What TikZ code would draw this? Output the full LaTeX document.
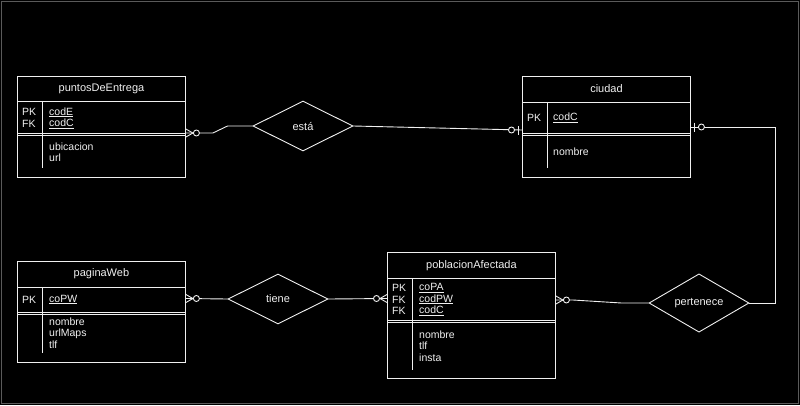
\documentclass[tikz,border=0pt]{standalone}
\usepackage{fontspec}
\setmainfont{Liberation Sans}
\usetikzlibrary{calc,shapes.geometric}

\definecolor{erline}{HTML}{F0F0F0}
\definecolor{frame}{HTML}{5A5A5A}
\tikzset{
	entity/.style={draw=erline, line width=0.9pt, rectangle, minimum width=168pt, inner sep=0pt, anchor=north west},
	relation/.style={draw=erline, line width=0.9pt, diamond, minimum width=100pt, minimum height=50pt, inner sep=0pt, text=erline, font=\fontsize{11}{13}\selectfont},
	hdr/.style={text=erline, inner sep=0pt, font=\fontsize{11}{13}\selectfont},
	txt/.style={text=erline, inner sep=0pt, anchor=west, align=left, font=\fontsize{10.5}{11.5}\selectfont},
	conn/.style={draw=erline, line width=0.9pt},
	zeromany/.pic={\draw[conn] (0,-4) -- (7,0) -- (0,4); \draw[conn, fill=black] (10.5,0) circle [radius=3pt];},
	zeroone/.pic={\draw[conn] (4,-4.5) -- (4,4.5); \draw[conn, fill=black] (10.5,0) circle [radius=3pt];}
}
% header line, double line under the keys, key column divider
\def\erlines(#1)(#2:#3:#4:#5){%
	\draw[conn] ($(#1.north west)+(0,#2)$) -- ($(#1.north east)+(0,#2)$);
	\draw[conn] ($(#1.north west)+(0,#3)$) -- ($(#1.north east)+(0,#3)$);
	\draw[conn] ($(#1.north west)+(0,#3+2)$) -- ($(#1.north east)+(0,#3+2)$);
	\draw[conn] ($(#1.north west)+(#4,#2)$) -- ($(#1.north west)+(#4,#5)$);}

\begin{document}
\begin{tikzpicture}[x=1pt, y=-1pt]
			%%%%% START %%%%%
			
			\useasboundingbox (0,0) rectangle (800,405);
			\fill[black] (0,0) rectangle (800,405);
			\draw[frame, line width=1pt] (1.5,1.5) rectangle (798.5,403.5);
			
			%%%%% puntosDeEntrega %%%%%
			\node[entity, minimum height=101pt] (pe) at (17,76) {};
			\erlines(pe)(25:57.5:25:92)
			\node[hdr] (pe-name) at ($(pe.north)+(0,12.5)$) {puntosDeEntrega};
			\node[txt] (pe-pk) at ($(pe.north west)+(5,42)$) {PK\\FK};
			\node[txt] (pe-keys) at ($(pe.north west)+(32,42)$) {\underline{codE}\\\underline{codC}};
			\node[txt] (pe-attr) at ($(pe.north west)+(32,76)$) {ubicacion\\url};
			
			%%%%% ciudad %%%%%
			\node[entity, minimum height=101pt] (ciudad) at (522,76) {};
			\erlines(ciudad)(26:57.5:25:92)
			\node[hdr] (ci-name) at ($(ciudad.north)+(0,13)$) {ciudad};
			\node[txt] (ci-pk) at ($(ciudad.north west)+(5,42)$) {PK};
			\node[txt] (ci-keys) at ($(ciudad.north west)+(31,42)$) {\underline{codC}};
			\node[txt] (ci-attr) at ($(ciudad.north west)+(31,76)$) {nombre};
			
			%%%%% paginaWeb %%%%%
			\node[entity, minimum height=101pt] (pw) at (17,261) {};
			\erlines(pw)(26:51.5:25:92)
			\node[hdr] (pw-name) at ($(pw.north)+(0,13)$) {paginaWeb};
			\node[txt] (pw-pk) at ($(pw.north west)+(5,38.5)$) {PK};
			\node[txt] (pw-keys) at ($(pw.north west)+(32,38.5)$) {\underline{coPW}};
			\node[txt] (pw-attr) at ($(pw.north west)+(32,72)$) {nombre\\urlMaps\\tlf};
			
			%%%%% poblacionAfectada %%%%%
			\node[entity, minimum height=126pt] (pa) at (387,252) {};
			\erlines(pa)(26:68:25:118)
			\node[hdr] (pa-name) at ($(pa.north)+(0,14)$) {poblacionAfectada};
			\node[txt] (pa-pk) at ($(pa.north west)+(5,47.5)$) {PK\\FK\\FK};
			\node[txt] (pa-keys) at ($(pa.north west)+(32,47.5)$) {\underline{coPA}\\\underline{codPW}\\\underline{codC}};
			\node[txt] (pa-attr) at ($(pa.north west)+(32,94)$) {nombre\\tlf\\insta};
			
			%%%%% relations %%%%%
			\node[relation] (esta) at (303,126) {está};
			\node[relation] (tiene) at (278,299) {tiene};
			\node[relation] (pert) at (699,303) {pertenece};
			
			\coordinate (pe-r) at ($(pe.north east)+(0,57)$);
			\coordinate (ci-l) at ($(ciudad.north west)+(0,54)$);
			\coordinate (ci-r) at ($(ciudad.north east)+(0,51)$);
			\coordinate (pw-r) at ($(pw.north east)+(0,37.5)$);
			\coordinate (pa-l) at ($(pa.north west)+(0,46.5)$);
			\coordinate (pa-r) at ($(pa.north east)+(0,48)$);
			
			\draw[conn] (pe-r) -- ++(27,0) -- ($(esta.west)+(-25,0)$) -- (esta.west);
			\draw[conn] (esta.east) -- (ci-l);
			\draw[conn] (ci-r) -- ++(85,0) |- (pert.east);
			\draw[conn] (pa-r) -- ++(17,0) -- ($(pert.west)+(-27,0)$) -- (pert.west);
			\draw[conn] (pw-r) -- (tiene.west);
			\draw[conn] (tiene.east) -- (pa-l);
			
			\pic at (pe-r) {zeromany};
			\pic[rotate=180] at (ci-l) {zeroone};
			\pic at (ci-r) {zeroone};
			\pic at (pw-r) {zeromany};
			\pic[rotate=180] at (pa-l) {zeromany};
			\pic at (pa-r) {zeromany};
			
			%%%%% END %%%%%
\end{tikzpicture}
\end{document}
